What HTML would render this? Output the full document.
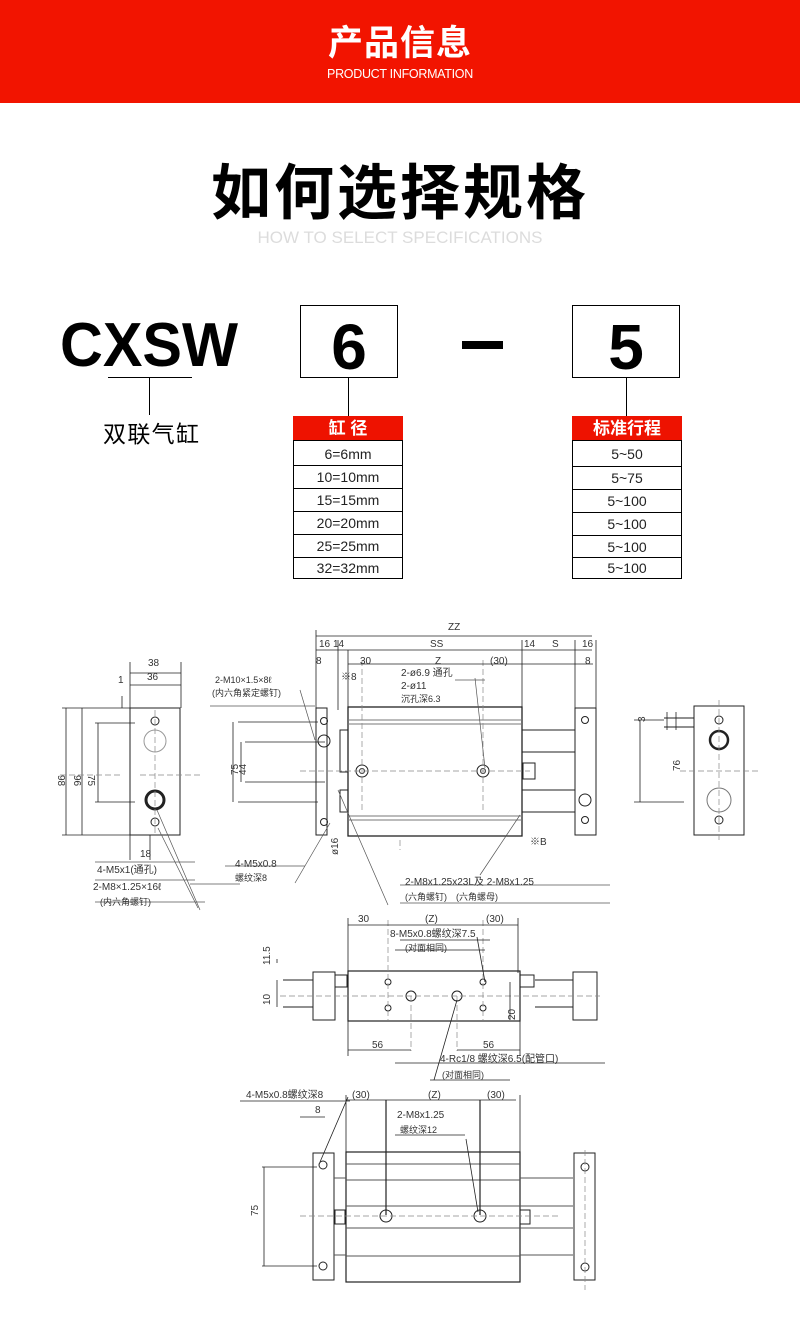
<!DOCTYPE html>
<html><head><meta charset="utf-8"><style>
*{margin:0;padding:0}
body{width:800px;height:1325px;background:#fff;position:relative;overflow:hidden;font-family:"Liberation Sans","Noto Sans CJK SC",sans-serif}
.hdr{position:absolute;left:0;top:0;width:800px;height:103px;background:#f21400}
.abs{position:absolute}
</style></head><body>
<div class="hdr"></div>
<div class="abs" style="left:0;width:800px;top:22px;text-align:center;color:#fff;font-size:35px;font-weight:bold;line-height:44px;letter-spacing:1px">产品信息</div>
<div class="abs" style="left:0;width:800px;top:66px;text-align:center;color:#fff;font-size:12.5px;line-height:16px;letter-spacing:-0.3px">PRODUCT INFORMATION</div>
<div class="abs" style="left:0;width:800px;top:158px;text-align:center;color:#000;font-size:60px;font-weight:bold;line-height:72px;letter-spacing:3px">如何选择规格</div>
<div class="abs" style="left:0;width:800px;top:228px;text-align:center;color:#dcdcdc;font-size:17px;line-height:20px">HOW TO SELECT SPECIFICATIONS</div>

<svg class="abs" style="left:0;top:0" width="800" height="1325" viewBox="0 0 800 1325" font-family="Liberation Sans, Noto Sans CJK SC, sans-serif">
<text x="60" y="366" font-size="62" font-weight="bold" textLength="178" lengthAdjust="spacingAndGlyphs">CXSW</text>
<line x1="108" y1="377.5" x2="192" y2="377.5" stroke="#000"/>
<line x1="149.5" y1="377" x2="149.5" y2="415" stroke="#000"/>
<text x="103" y="442" font-size="23" textLength="96">双联气缸</text>
<rect x="300.5" y="305.5" width="97" height="72" fill="none" stroke="#000"/>
<text x="349" y="369" font-size="64" font-weight="bold" text-anchor="middle">6</text>
<line x1="348.5" y1="377" x2="348.5" y2="416" stroke="#000"/>
<rect x="462" y="341" width="41" height="8" fill="#000"/>
<rect x="572.5" y="305.5" width="107" height="72" fill="none" stroke="#000"/>
<text x="626" y="369" font-size="64" font-weight="bold" text-anchor="middle">5</text>
<line x1="626.5" y1="377" x2="626.5" y2="416" stroke="#000"/>
<rect x="293" y="416" width="110" height="24" fill="#ee1200"/>
<text x="348" y="434" font-size="17" fill="#fff" font-weight="bold" text-anchor="middle">缸 径</text>
<rect x="572" y="416" width="110" height="24" fill="#ee1200"/>
<text x="627" y="434" font-size="17" fill="#fff" font-weight="bold" text-anchor="middle">标准行程</text>
<g fill="none" stroke="#000">
<rect x="293.5" y="440.5" width="109" height="138"/>
<rect x="572.5" y="440.5" width="109" height="138"/>
<path d="M293 465.5h110M293 488.5h110M293 511.5h110M293 534.5h110M293 557.5h110M572 466.5h110M572 489.5h110M572 512.5h110M572 535.5h110M572 557.5h110"/>
</g>
<g font-size="14" fill="#222" text-anchor="middle">
<text x="348" y="459">6=6mm</text><text x="348" y="482">10=10mm</text><text x="348" y="505">15=15mm</text><text x="348" y="528">20=20mm</text><text x="348" y="551">25=25mm</text><text x="348" y="573">32=32mm</text>
<text x="627" y="459">5~50</text><text x="627" y="483">5~75</text><text x="627" y="506">5~100</text><text x="627" y="529">5~100</text><text x="627" y="552">5~100</text><text x="627" y="573">5~100</text>
</g>

<g stroke="#222" stroke-width="1" fill="none">
<rect x="130" y="708" width="50" height="127"/>
<circle cx="155" cy="721" r="4"/><circle cx="155" cy="741" r="11" stroke="#999"/><circle cx="155" cy="800" r="9" stroke-width="3"/><circle cx="155" cy="822" r="4"/>
<path d="M130 673h51M130 685h51M130 662v46M181 662v46M66 708v127M82 708v127M98 723v79M62 708h68M62 835h68M95 723h40M95 802h40M130 835v25M150 835v25M122 708v-12" stroke-width="0.8"/>
<path d="M120 775h-60M140 775h60M155 710v125" stroke="#888" stroke-dasharray="6 3" stroke-width="0.7"/>
<path d="M95 862h100M95 880h100M95 902h110M158 828l40 80M157 810l43 100" stroke="#555" stroke-width="0.7"/>
<rect x="316" y="708" width="11" height="127"/>
<circle cx="324" cy="721" r="3.5"/><circle cx="324" cy="741" r="6"/><circle cx="324" cy="822" r="3.5"/>
<rect x="340" y="730" width="8" height="42"/><rect x="340" y="790" width="8" height="22"/>
<rect x="348" y="707" width="174" height="129" stroke-width="1.3"/>
<path d="M348 720h174M348 724h174M348 820h174M348 816h174" stroke="#777"/>
<circle cx="362" cy="771" r="6"/><circle cx="362" cy="771" r="2.5"/>
<circle cx="483" cy="771" r="6"/><circle cx="483" cy="771" r="2.5"/>
<path d="M522 730h53M522 752h53M522 790h53M522 812h53" />
<rect x="523" y="763" width="12" height="16"/>
<rect x="575" y="708" width="21" height="127"/>
<circle cx="585" cy="720" r="3.5"/><circle cx="585" cy="800" r="6"/><circle cx="585" cy="820" r="3.5"/>
<path d="M300 771h230M362 660v150M483 660v150M400 840v10" stroke="#888" stroke-dasharray="6 3" stroke-width="0.7"/>
<path d="M316 636h276M316 650h276M348 664h245M316 630v80M338 640v70M348 650v60M522 640v70M575 640v70M596 640v70M238 722h80M238 802h80M245 742h80M245 782h80M233 722v80M241 742v40" stroke-width="0.8"/>
<path d="M210 706h105M240 884h-50M225 866h80M315 740l-15-50M330 823l-35 60M338 790l50 115M520 815l-40 60M400 903h210M400 885h210M485 768l-10-90M455 680h30" stroke="#555" stroke-width="0.7"/>
<rect x="694" y="706" width="50" height="129"/>
<path d="M664 718h30M664 727h30" />
<circle cx="719" cy="720" r="4"/><circle cx="719" cy="740" r="9" stroke-width="2.5"/><circle cx="719" cy="800" r="12" stroke="#777"/><circle cx="719" cy="820" r="4"/>
<path d="M640 720v82M634 720h30M634 802h50M667 712v18M676 712v18" stroke-width="0.8"/>
<path d="M680 771h80M719 700v140" stroke="#888" stroke-dasharray="6 3" stroke-width="0.7"/>
<rect x="348" y="971" width="172" height="50" stroke-width="1.2"/>
<rect x="313" y="972" width="22" height="48"/><rect x="335" y="975" width="12" height="12"/>
<rect x="573" y="972" width="24" height="48"/><rect x="520" y="975" width="14" height="12"/>
<path d="M283 980h30M283 1007h30M535 980h38M535 1007h38" />
<circle cx="411" cy="996" r="5"/><circle cx="457" cy="996" r="5"/>
<circle cx="388" cy="982" r="3"/><circle cx="388" cy="1008" r="3"/><circle cx="483" cy="982" r="3"/><circle cx="483" cy="1008" r="3"/>
<path d="M280 996h320M388 920v100M483 920v100M411 996v55M457 996v55" stroke="#888" stroke-dasharray="6 3" stroke-width="0.7"/>
<path d="M348 925h170M348 918v55M518 918v55M348 1050h63M457 1050h63M348 1021v35M520 1021v35M277 963v-4M277 980v27M510 982v38M395 950h90M400 940h90M395 1063h210M430 1080h80M485 982l-8-45M457 1000l-23 80" stroke-width="0.8"/>
<rect x="313" y="1153" width="21" height="127"/>
<circle cx="323" cy="1165" r="4"/><circle cx="323" cy="1266" r="4"/>
<rect x="346" y="1152" width="174" height="130" stroke-width="1.2"/>
<path d="M346 1164h174M346 1180h174M346 1206h174M346 1228h174M346 1256h174M334 1178h12M334 1255h12M520 1178h53M520 1206h53M520 1228h53M520 1255h53" stroke="#555"/>
<path d="M386 1100v115M480 1100v115" stroke-width="1.2"/>
<circle cx="386" cy="1216" r="6"/><circle cx="480" cy="1216" r="6"/>
<rect x="335" y="1210" width="10" height="14"/><rect x="520" y="1210" width="10" height="14"/>
<rect x="574" y="1153" width="21" height="127"/>
<circle cx="585" cy="1167" r="4"/><circle cx="585" cy="1267" r="4"/>
<path d="M300 1216h260M585 1150v140" stroke="#888" stroke-dasharray="6 3" stroke-width="0.7"/>
<path d="M262 1167h55M262 1266h55M264 1167v99M346 1100h170M346 1095v60M520 1095v60M300 1117h25M240 1101h110M395 1135h70M320 1162l28-65M478 1212l-12-73" stroke-width="0.8"/>
</g>
<g font-size="10" fill="#333" font-family="Liberation Sans, Noto Sans CJK SC, sans-serif">
<text x="148" y="666">38</text><text x="147" y="680">36</text><text x="118" y="683">1</text>
<text x="140" y="857">18</text>
<text x="97" y="873">4-M5x1(通孔)</text><text x="93" y="890">2-M8×1.25×16ℓ</text><text x="100" y="905" font-size="9">(内六角螺钉)</text>
<text x="58" y="775" transform="rotate(90 58 775)">98</text><text x="74" y="775" transform="rotate(90 74 775)">96</text><text x="88" y="775" transform="rotate(90 88 775)">75</text>
<text x="215" y="683" font-size="9">2-M10×1.5×8ℓ</text><text x="212" y="696" font-size="9">(内六角紧定螺钉)</text>
<text x="238" y="775" transform="rotate(-90 238 775)">75</text><text x="246" y="775" transform="rotate(-90 246 775)">44</text>
<text x="235" y="867">4-M5x0.8</text><text x="235" y="881" font-size="9">螺纹深8</text>
<text x="338" y="855" transform="rotate(-90 338 855)">ø16</text>
<text x="448" y="630">ZZ</text><text x="319" y="647">16</text><text x="333" y="647">14</text><text x="430" y="647">SS</text><text x="524" y="647">14</text><text x="552" y="647">S</text><text x="582" y="647">16</text>
<text x="316" y="664">8</text><text x="585" y="664">8</text><text x="360" y="664">30</text><text x="435" y="664">Z</text><text x="490" y="664">(30)</text>
<text x="401" y="676">2-ø6.9 通孔</text><text x="401" y="689">2-ø11</text><text x="401" y="702" font-size="9">沉孔深6.3</text>
<text x="341" y="680">※8</text>
<text x="405" y="885">2-M8x1.25x23L及 2-M8x1.25</text><text x="405" y="900" font-size="9">(六角螺钉)　(六角螺母)</text>
<text x="530" y="845">※B</text>
<text x="645" y="722" transform="rotate(-90 645 722)">3</text><text x="680" y="771" transform="rotate(-90 680 771)">76</text>
<text x="358" y="922">30</text><text x="425" y="922">(Z)</text><text x="486" y="922">(30)</text>
<text x="390" y="937">8-M5x0.8螺纹深7.5</text><text x="405" y="951" font-size="9">(对面相同)</text>
<text x="270" y="965" transform="rotate(-90 270 965)">11.5</text><text x="270" y="1005" transform="rotate(-90 270 1005)">10</text>
<text x="515" y="1020" transform="rotate(-90 515 1020)">20</text>
<text x="372" y="1048">56</text><text x="483" y="1048">56</text>
<text x="440" y="1062">4-Rc1/8 螺纹深6.5(配管口)</text><text x="442" y="1078" font-size="9">(对面相同)</text>
<text x="246" y="1098">4-M5x0.8螺纹深8</text><text x="352" y="1098">(30)</text><text x="428" y="1098">(Z)</text><text x="487" y="1098">(30)</text>
<text x="315" y="1113">8</text><text x="397" y="1118">2-M8x1.25</text><text x="400" y="1133" font-size="9">螺纹深12</text>
<text x="258" y="1216" transform="rotate(-90 258 1216)">75</text>
</g>
</svg>
</body></html>
